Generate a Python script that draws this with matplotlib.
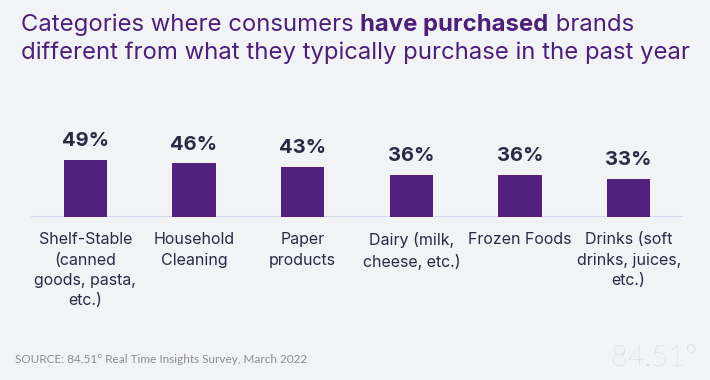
import matplotlib.pyplot as plt

categories = ['Shelf-Stable\n(canned\ngoods, pasta,\netc.)', 'Household\nCleaning',
              'Paper\nproducts', 'Dairy (milk,\ncheese, etc.)', 'Frozen Foods',
              'Drinks (soft\ndrinks, juices,\netc.)']
values = [49, 46, 43, 36, 36, 33]

bg = '#f2f3f6'
purple = '#52207f'
dark = '#2b2a45'

plt.rcParams['font.family'] = ['Inter', 'DejaVu Sans']

fig = plt.figure(figsize=(7.1, 3.8), dpi=100, facecolor=bg)
ax = fig.add_axes([31 / 710, 1 - 217 / 380, 652 / 710, 69.8 / 380])
ax.set_facecolor(bg)

bars = ax.bar(range(len(values)), values, width=0.4, color=purple, zorder=2)
ax.bar_label(bars, labels=[f'{v}%' for v in values], padding=7,
             fontsize=14.5, fontweight='bold', color=dark)
ax.axhline(0, color='#d7d5e9', lw=1.6, zorder=1)

ax.set_xlim(-0.5, 5.5)
ax.set_ylim(0, 60)
ax.set_yticks([])
ax.set_xticks(range(len(values)))
ax.set_xticklabels(categories, fontsize=11.5, color=dark, linespacing=1.45)
ax.tick_params(axis='x', length=0, pad=11)
for s in ax.spines.values():
    s.set_visible(False)

# title with a bold run in the middle
tcol = '#4b1f7a'
tsize = 17.2
t1 = fig.text(21 / 710, 1 - 31 / 380, 'Categories where consumers ', fontsize=tsize, color=tcol)
t2 = ax.annotate('have purchased', xy=(1, 0), xycoords=t1, fontsize=tsize, color=tcol,
                 fontweight='bold', va='bottom', annotation_clip=False)
ax.annotate(' brands', xy=(1, 0), xycoords=t2, fontsize=tsize, color=tcol,
            va='bottom', annotation_clip=False)
fig.text(21 / 710, 1 - 59 / 380, 'different from what they typically purchase in the past year',
         fontsize=tsize, color=tcol)

fig.text(15 / 710, 1 - 363 / 380, 'SOURCE: 84.51° Real Time Insights Survey, March 2022',
         fontsize=8.5, color='#8c8b98', family=['Lato', 'DejaVu Sans'])
fig.text(697 / 710, 1 - 366 / 380, '84.51°', fontsize=21, color='#c8c8d0',
         ha='right', fontweight='light', family=['Lato', 'DejaVu Sans'])

fig.savefig('out.png', dpi=100, facecolor=bg)
